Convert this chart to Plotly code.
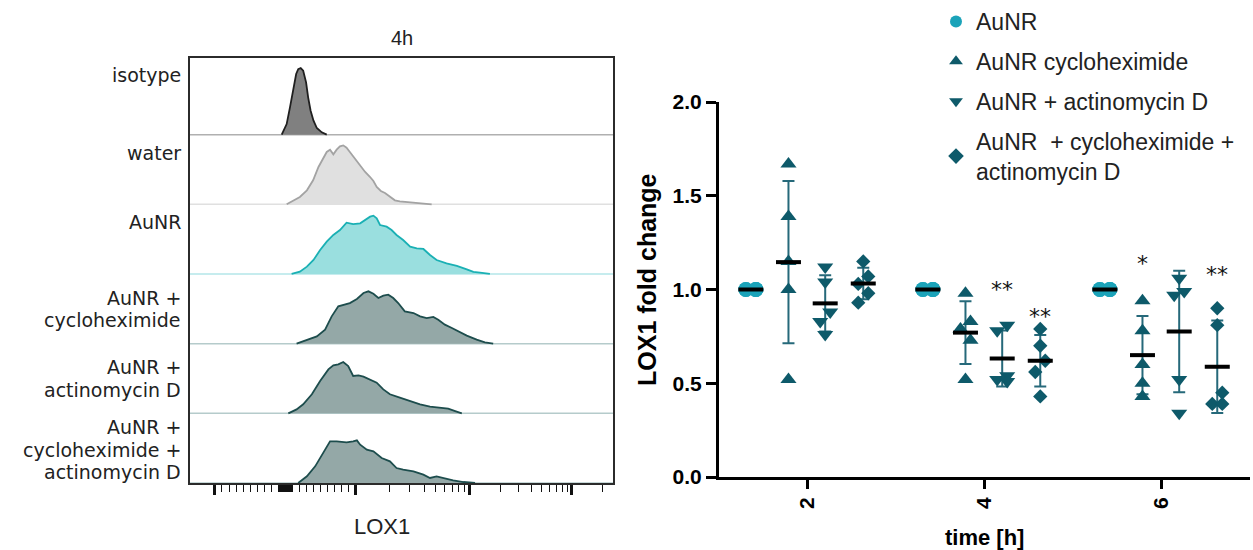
import numpy as np
import plotly.graph_objects as go

W, H = 1253, 550

# ---------------- LOX1 flow cytometry histograms, 4 h ----------------
# x: display channel on the biexponential scale (0-1024), y: count relative to the row height
ROW_NAMES = ["isotype", "water", "AuNR", "AuNR +\ncycloheximide",
             "AuNR +\nactinomycin D", "AuNR +\ncycloheximide +\nactinomycin D"]

iso_ch = [222, 234, 242, 250, 257, 262, 268, 274, 281, 286, 292, 299, 307, 319, 331]
iso_n = [0, 0.152, 0.392, 0.679, 0.870, 0.941, 0.956, 0.918, 0.750, 0.535, 0.344, 0.201,
         0.095, 0.033, 0]

water_ch = [234, 250, 266, 283, 298, 311, 323, 331, 339, 347, 355, 363, 371, 379, 387, 399,
            412, 424, 436, 444, 452, 462, 472, 484, 496, 508, 525, 549, 565, 585]
water_n = [0, 0.048, 0.105, 0.201, 0.344, 0.536, 0.679, 0.751, 0.784, 0.717, 0.784, 0.832,
           0.846, 0.813, 0.751, 0.655, 0.560, 0.464, 0.392, 0.335, 0.249, 0.191, 0.163,
           0.105, 0.057, 0.043, 0.033, 0.019, 0.014, 0]

aunr_ch = [246, 266, 283, 299, 315, 331, 347, 363, 379, 395, 412, 424, 436, 444, 452, 460,
           476, 488, 500, 516, 533, 549, 565, 581, 597, 621, 646, 670, 686, 702, 726]
aunr_n = [0, 0.033, 0.105, 0.201, 0.344, 0.464, 0.560, 0.631, 0.736, 0.717, 0.727, 0.775,
          0.823, 0.837, 0.799, 0.703, 0.679, 0.631, 0.560, 0.488, 0.392, 0.368, 0.359,
          0.273, 0.201, 0.153, 0.115, 0.067, 0.029, 0.019, 0]

chx_ch = [258, 283, 307, 327, 343, 359, 371, 387, 404, 420, 432, 444, 456, 468, 480, 492,
          504, 520, 541, 557, 573, 589, 601, 617, 634, 650, 670, 694, 714, 734]
chx_n = [0, 0.048, 0.105, 0.201, 0.392, 0.536, 0.560, 0.583, 0.641, 0.727, 0.751, 0.717,
         0.655, 0.689, 0.703, 0.655, 0.583, 0.464, 0.440, 0.392, 0.368, 0.383, 0.344,
         0.273, 0.225, 0.177, 0.115, 0.057, 0.019, 0]

actd_ch = [238, 258, 274, 295, 315, 335, 347, 359, 371, 383, 395, 408, 420, 436, 452, 468,
           484, 508, 533, 557, 581, 605, 625, 642, 658]
actd_n = [0, 0.057, 0.129, 0.273, 0.464, 0.631, 0.689, 0.703, 0.736, 0.679, 0.536, 0.545,
          0.526, 0.488, 0.440, 0.344, 0.273, 0.225, 0.177, 0.129, 0.096, 0.081, 0.067,
          0.033, 0]

combo_ch = [262, 283, 303, 323, 339, 355, 379, 395, 404, 412, 428, 444, 464, 484, 500, 516,
            541, 565, 581, 597, 613, 637, 662, 690]
combo_n = [0, 0.096, 0.239, 0.430, 0.598, 0.598, 0.583, 0.598, 0.612, 0.550, 0.478, 0.454,
           0.359, 0.311, 0.215, 0.191, 0.167, 0.120, 0.072, 0.096, 0.072, 0.038, 0.014, 0]

HISTS = [(iso_ch, iso_n), (water_ch, water_n), (aunr_ch, aunr_n),
         (chx_ch, chx_n), (actd_ch, actd_n), (combo_ch, combo_n)]
HIST_FILL = ["#808080", "#e0e0e0", "#9adfdf", "#94a8a7", "#94a8a7", "#94a8a7"]
HIST_LINE = ["#1f1f1f", "#a3a3a3", "#1ab0b4", "#1d4d4d", "#1d4d4d", "#1d4d4d"]
BASE_LINE = ["#b0b0b0", "#e0e0e0", "#b3e6e8", "#b5cbcb", "#b5cbcb", "#b5cbcb"]
# first-line height of each row label above its baseline, in row units
LABEL_TOP = [0.85, 0.73, 0.75, 0.66, 0.66, 0.80]
LINE_STEP = 0.322

# biexponential display scale: linear around zero, logarithmic per decade above 1e3
ZERO_CH, LIN_SLOPE = 230.0, 0.1695
DECADES = [(1e3, 399.5), (1e4, 677.8), (1e5, 924.7)]


def to_channel(v):
    if abs(v) <= 1e3:
        return ZERO_CH + v * LIN_SLOPE
    for (lo, c_lo), (hi, c_hi) in zip(DECADES, DECADES[1:]):
        if v <= hi:
            return c_lo + (c_hi - c_lo) * np.log10(v / lo)
    lo, c_lo = DECADES[-2]
    hi, c_hi = DECADES[-1]
    return c_hi + (c_hi - c_lo) * np.log10(v / hi)


major_vals = [-1e3, 1e3, 1e4, 1e5]
minor_vals = ([-k * 100 for k in range(1, 10)] + [-k * 10 for k in range(1, 10)] + [0]
              + [k * 10 for k in range(1, 10)] + [k * 100 for k in range(1, 10)]
              + [k * 1e3 for k in range(2, 10)] + [k * 1e4 for k in range(2, 10)] + [2e5])

# ---------------- LOX1 fold change over time ----------------
TIMES = [2, 4, 6]
GROUP_NAMES = ["AuNR", "AuNR cycloheximide", "AuNR + actinomycin D",
               "AuNR\u00a0 + cycloheximide +<br>actinomycin D"]

aunr_2h = [1.0, 1.0, 1.0, 1.0, 1.0]
aunr_4h = [1.0, 1.0, 1.0, 1.0, 1.0]
aunr_6h = [1.0, 1.0, 1.0, 1.0, 1.0]
chx_2h = [1.67, 1.39, 1.15, 1.00, 0.52]
chx_4h = [0.98, 0.83, 0.79, 0.73, 0.52]
chx_6h = [0.94, 0.78, 0.60, 0.50, 0.43]
actd_2h = [1.12, 1.04, 0.88, 0.83, 0.76]
actd_4h = [0.81, 0.78, 0.54, 0.52, 0.51]
actd_6h = [1.06, 0.99, 0.97, 0.52, 0.34]
combo_2h = [1.15, 1.07, 1.03, 0.98, 0.93]
combo_4h = [0.79, 0.70, 0.62, 0.56, 0.43]
combo_6h = [0.90, 0.81, 0.45, 0.39, 0.39]

SERIES = [[aunr_2h, aunr_4h, aunr_6h], [chx_2h, chx_4h, chx_6h],
          [actd_2h, actd_4h, actd_6h], [combo_2h, combo_4h, combo_6h]]

# significance marks: (time, group index, label, height)
SIGNIF = [(4, 2, "**", 1.02), (4, 3, "**", 0.88), (6, 1, "*", 1.16), (6, 3, "**", 1.10)]

GROUP_OFFSET = [-0.64, -0.215, 0.20, 0.63]
SYMBOLS = ["circle", "triangle-up", "triangle-down", "diamond"]
SIZES = [15, 14, 14, 11]
CYAN = "#1ba3b9"
TEAL = "#0e5a6a"
ERR = "#26697a"
MARK_COLORS = [CYAN, TEAL, TEAL, TEAL]

# plotting geometry (pixels)
LX0, LX1, LY0, LY1 = 190, 613, 58, 483
RX0, RX1, RY0, RY1 = 719, 1250, 102, 477
PX_PER_X = (RX1 - RX0) / 6.0
PX_PER_Y = (RY1 - RY0) / 2.0


def spread(vals, gap_px=13, dx_px=5):
    """Horizontal nudges so that close values in a column do not sit on top of each other."""
    order = sorted(range(len(vals)), key=lambda k: -vals[k])
    offs = [0.0] * len(vals)
    clusters = [[order[0]]]
    for a, b in zip(order, order[1:]):
        if (vals[a] - vals[b]) * PX_PER_Y < gap_px:
            clusters[-1].append(b)
        else:
            clusters.append([b])
    for c in clusters:
        if len(c) > 1:
            for j, k in enumerate(c):
                offs[k] = (dx_px if j % 2 == 0 else -dx_px) / PX_PER_X
    return offs


ARIAL = "Liberation Sans, Arial, sans-serif"
DEJAVU = "DejaVu Sans, sans-serif"

fig = go.Figure()

# ---- histograms ----
n_rows = len(HISTS)
for i, (ch, n) in enumerate(HISTS):
    base = n_rows - 1 - i
    fig.add_shape(type="line", xref="x", yref="y", x0=0, x1=1024, y0=base, y1=base,
                  line=dict(color=BASE_LINE[i], width=1.5), layer="below")
    fig.add_trace(go.Scatter(
        x=ch, y=[base + v for v in n], mode="lines", fill="toself",
        fillcolor=HIST_FILL[i], line=dict(color=HIST_LINE[i], width=1.8),
        xaxis="x", yaxis="y", showlegend=False, hoverinfo="skip"))

for i, name in enumerate(ROW_NAMES):
    base = n_rows - 1 - i
    for j, line in enumerate(name.split("\n")):
        fig.add_annotation(x=182 / W, xref="paper", xanchor="right",
                           y=base + LABEL_TOP[i] - j * LINE_STEP, yref="y", yanchor="middle",
                           text=line, showarrow=False, borderpad=0,
                           font=dict(family=DEJAVU, size=19, color="#222222"))

fig.add_annotation(x=(LX0 + LX1) / 2 / W, y=(H - 38) / H, xref="paper", yref="paper",
                   xanchor="center", yanchor="middle",
                   text="4h", showarrow=False, font=dict(family=ARIAL, size=20, color="#222222"))
fig.add_annotation(x=382 / W, y=(H - 526) / H, xref="paper", yref="paper",
                   xanchor="center", yanchor="middle",
                   text="LOX1", showarrow=False, font=dict(family=ARIAL, size=22, color="#222222"))

# ---- fold change: SD bars, points, means ----
means = [[float(np.mean(v)) for v in grp] for grp in SERIES]
sds = [[float(np.std(v, ddof=1)) for v in grp] for grp in SERIES]

for g in range(len(SERIES)):
    fig.add_trace(go.Scatter(
        x=[t + GROUP_OFFSET[g] for t in TIMES], y=means[g], mode="markers",
        marker=dict(size=1, color="rgba(0,0,0,0)"),
        error_y=dict(type="data", array=sds[g], visible=True, color=ERR, thickness=2, width=6),
        xaxis="x2", yaxis="y2", showlegend=False, hoverinfo="skip", cliponaxis=False))

for g in range(len(SERIES)):
    xs, ys = [], []
    for t, vals in zip(TIMES, SERIES[g]):
        offs = spread(vals)
        xs += [t + GROUP_OFFSET[g] + o for o in offs]
        ys += vals
    fig.add_trace(go.Scatter(
        x=xs, y=ys, mode="markers", name=GROUP_NAMES[g], legendgroup=f"g{g}",
        marker=dict(symbol=SYMBOLS[g], size=SIZES[g], color=MARK_COLORS[g], line=dict(width=0)),
        xaxis="x2", yaxis="y2", cliponaxis=False))

for g in range(len(SERIES)):
    fig.add_trace(go.Scatter(
        x=[t + GROUP_OFFSET[g] for t in TIMES], y=means[g], mode="markers",
        marker=dict(size=1, color="rgba(0,0,0,0)"),
        error_x=dict(type="constant", value=12.5 / PX_PER_X, visible=True, color="black",
                     thickness=4, width=0),
        xaxis="x2", yaxis="y2", showlegend=False, hoverinfo="skip", cliponaxis=False))

for t, g, label, yv in SIGNIF:
    fig.add_annotation(x=t + GROUP_OFFSET[g], y=yv, xref="x2", yref="y2", text=label,
                       showarrow=False, yshift=-4,
                       font=dict(family=DEJAVU, size=22, color="#111111"))

fig.add_annotation(x=647 / W, y=(H - 280) / H, xref="paper", yref="paper",
                   xanchor="center", yanchor="middle",
                   text="LOX1 fold change", textangle=-90, showarrow=False,
                   font=dict(family=ARIAL, size=25, color="black", weight="bold"))
fig.add_annotation(x=(RX0 + RX1) / 2 / W, y=(H - 537) / H, xref="paper", yref="paper",
                   xanchor="center", yanchor="middle",
                   text="time [h]", showarrow=False,
                   font=dict(family=ARIAL, size=22, color="black", weight="bold"))

fig.update_layout(
    width=W, height=H, margin=dict(l=0, r=0, t=0, b=0, pad=0, autoexpand=False),
    paper_bgcolor="white", plot_bgcolor="white",
    xaxis=dict(domain=[LX0 / W, LX1 / W], range=[0, 1024], anchor="y",
               showline=True, mirror=True, linecolor="#2b2b2b", linewidth=1.5,
               showgrid=False, zeroline=False, showticklabels=False,
               tickmode="array", tickvals=[to_channel(v) for v in major_vals],
               ticks="outside", ticklen=10, tickwidth=2.5, tickcolor="#111111",
               minor=dict(tickmode="array", tickvals=[to_channel(v) for v in minor_vals],
                          ticks="outside", ticklen=7, tickwidth=1.3, tickcolor="#111111",
                          showgrid=False)),
    yaxis=dict(domain=[(H - LY1) / H, (H - LY0) / H], range=[0, 6.1], anchor="x",
               showline=True, mirror=True, linecolor="#2b2b2b", linewidth=1.5,
               showgrid=False, zeroline=False, showticklabels=False, ticks=""),
    xaxis2=dict(domain=[RX0 / W, RX1 / W], range=[1, 7], anchor="y2",
                showline=True, linecolor="black", linewidth=3,
                showgrid=False, zeroline=False,
                tickmode="array", tickvals=TIMES, ticktext=[str(t) for t in TIMES],
                tickangle=-90, ticks="outside", ticklen=9, tickwidth=3, tickcolor="black",
                tickfont=dict(family=ARIAL, size=21, color="black", weight="bold")),
    yaxis2=dict(domain=[(H - RY1) / H, (H - RY0) / H], range=[0, 2], anchor="x2",
                showline=True, linecolor="black", linewidth=3,
                showgrid=False, zeroline=False,
                tickmode="array", tickvals=[0, 0.5, 1.0, 1.5, 2.0], tickformat=".1f",
                ticks="outside", ticklen=10, tickwidth=3, tickcolor="black",
                tickfont=dict(family=ARIAL, size=21, color="black", weight="bold")),
    legend=dict(x=936 / W, y=1.0, xanchor="left", yanchor="top",
                font=dict(family=ARIAL, size=23, color="#222222"),
                bgcolor="rgba(0,0,0,0)", itemsizing="constant", tracegroupgap=7),
)

fig.write_html("out.html")
